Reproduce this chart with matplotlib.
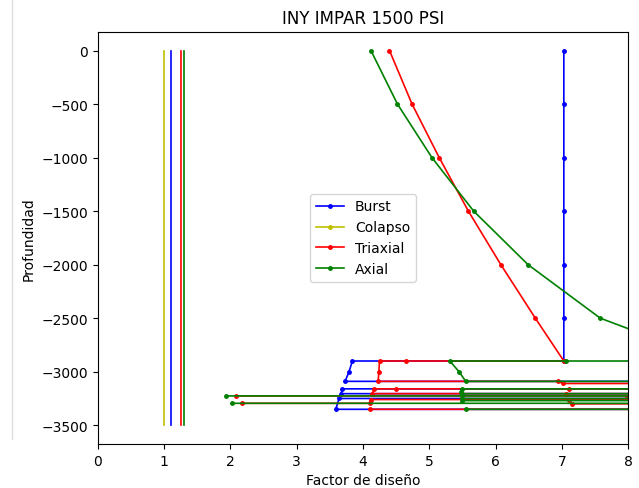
import numpy as np
import matplotlib
matplotlib.use("Agg")
import matplotlib.pyplot as plt
from matplotlib.lines import Line2D

nan = np.nan
FAR = 12.0  # points that run off the right edge of the axes

# design factor limits (vertical reference lines)
limit_names = ["Burst", "Colapso", "Triaxial", "Axial"]
limit_values = [1.10, 1.00, 1.25, 1.30]
limit_colors = ["b", "y", "r", "g"]
limit_depth = [0, -3500]

# Burst
burst_x = [7.03, 7.03, 7.03, 7.03, 7.03, 7.03, 7.03,
           3.84, 3.79, 3.73, FAR, FAR, 3.69, 3.67, FAR, FAR, 3.64, 3.59, FAR]
burst_d = [0, -500, -1000, -1500, -2000, -2500, -2900,
           -2900, -3000, -3090, -3090, -3160, -3160, -3205, -3205, -3250, -3250, -3351, -3351]

# Colapso: no points inside the plotted range
colapso_x = []
colapso_d = []

# Triaxial
tri_x = [4.40, 4.74, 5.15, 5.59, 6.08, 6.60, 7.03,
         4.65, 4.25, 4.24, 4.23, 6.94, 7.02, FAR, FAR, 7.11, 4.50, 4.17, 4.14, 7.07,
         FAR, FAR, 2.08, nan, 7.98, FAR, FAR, 7.11, 4.12, 4.10, 2.18, nan,
         7.16, FAR, FAR, 4.10]
tri_d = [0, -500, -1000, -1500, -2000, -2500, -2900,
         -2900, -2900, -3000, -3090, -3090, -3110, -3110, -3160, -3160, -3160, -3160, -3205, -3205,
         -3205, -3226, -3226, nan, -3235, -3235, -3260, -3260, -3260, -3295, -3295, nan,
         -3300, -3300, -3351, -3351]

# Axial
axial_x = [4.12, 4.52, 5.04, 5.67, 6.49, 7.58, 9.30,
           7.06, 5.31, 5.45, 5.55, FAR, FAR, 5.49, 5.48, 5.49, FAR, FAR, 1.94, nan,
           FAR, 5.50, 5.50, FAR, FAR, 2.03, nan, FAR, 5.55]
axial_d = [0, -500, -1000, -1500, -2000, -2500, -2900,
           -2900, -2900, -3000, -3090, -3090, -3160, -3160, -3190, -3205, -3205, -3226, -3226, nan,
           -3250, -3250, -3270, -3270, -3295, -3295, nan, -3351, -3351]


def main():
    fig, ax = plt.subplots(figsize=(6.39, 4.89), dpi=100)
    fig.subplots_adjust(left=0.153, right=0.983, top=0.933, bottom=0.090)

    ax.plot(burst_x, burst_d, "b.-", lw=1.2, ms=5, label="Burst")
    ax.plot(colapso_x, colapso_d, "y.-", lw=1.2, ms=5, label="Colapso")
    ax.plot(tri_x, tri_d, "r.-", lw=1.2, ms=5, label="Triaxial")
    ax.plot(axial_x, axial_d, "g.-", lw=1.2, ms=5, label="Axial")

    for val, col in zip(limit_values, limit_colors):
        ax.plot([val, val], limit_depth, color=col, lw=1.2)

    ax.set_xlim(0, 8)
    ax.set_ylim(-3675, 175)
    ax.set_title("INY IMPAR 1500 PSI")
    ax.set_xlabel("Factor de diseño")
    ax.set_ylabel("Profundidad")
    ax.legend(loc="center")

    # thin border line from the screenshot edge
    fig.add_artist(Line2D([12 / 639, 12 / 639], [0.1, 1.0], color="#dddddd", lw=1))

    fig.savefig("out.png", dpi=100)
    plt.close(fig)


if __name__ == "__main__":
    main()
